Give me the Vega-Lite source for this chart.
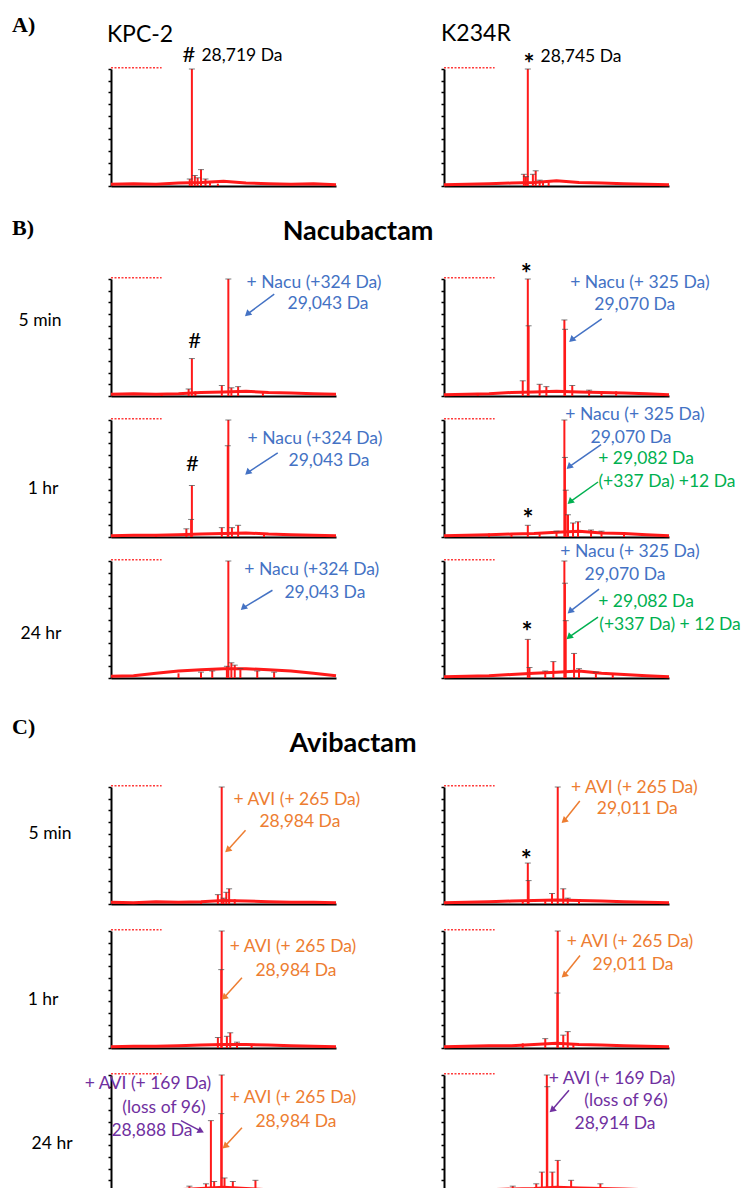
{
"$schema": "https://vega.github.io/schema/vega-lite/v6.json",
"background": "white",
"padding": {"left": 12, "top": 13, "right": 0, "bottom": 0},
"config": {
  "view": {"stroke": null},
  "font": "Lato",
  "axisX": {"labels": false, "ticks": false, "grid": false, "domainColor": "#000", "domainWidth": 2},
  "axisY": {"labels": false, "ticks": true, "tickSize": 3, "tickWidth": 1.5, "tickColor": "#000", "grid": false, "domainColor": "#000", "domainWidth": 2, "tickCount": 10}
},
"datasets": {
"d": [
{"s":"A","r":1,"c":1,"t":"hd","m":28000,"m2":28450,"i":101},
{"s":"A","r":1,"c":2,"t":"hd","m":28000,"m2":28450,"i":101},
{"s":"B","r":1,"c":1,"t":"hd","m":28000,"m2":28450,"i":101},
{"s":"B","r":1,"c":2,"t":"hd","m":28000,"m2":28450,"i":101},
{"s":"B","r":2,"c":1,"t":"hd","m":28000,"m2":28450,"i":101},
{"s":"B","r":2,"c":2,"t":"hd","m":28000,"m2":28450,"i":101},
{"s":"B","r":3,"c":1,"t":"hd","m":28000,"m2":28450,"i":101},
{"s":"B","r":3,"c":2,"t":"hd","m":28000,"m2":28450,"i":101},
{"s":"C","r":1,"c":1,"t":"hd","m":28000,"m2":28450,"i":101},
{"s":"C","r":1,"c":2,"t":"hd","m":28000,"m2":28450,"i":101},
{"s":"C","r":2,"c":1,"t":"hd","m":28000,"m2":28450,"i":101},
{"s":"C","r":2,"c":2,"t":"hd","m":28000,"m2":28450,"i":101},
{"s":"C","r":3,"c":1,"t":"hd","m":28000,"m2":28450,"i":101},
{"s":"C","r":3,"c":2,"t":"hd","m":28000,"m2":28450,"i":101},

{"s":"A","r":1,"c":1,"t":"bl","m":28000,"i":1.5},{"s":"A","r":1,"c":1,"t":"bl","m":28200,"i":2},{"s":"A","r":1,"c":1,"t":"bl","m":28400,"i":1.5},{"s":"A","r":1,"c":1,"t":"bl","m":28600,"i":2.5},{"s":"A","r":1,"c":1,"t":"bl","m":28800,"i":3},{"s":"A","r":1,"c":1,"t":"bl","m":29000,"i":4},{"s":"A","r":1,"c":1,"t":"bl","m":29200,"i":2.5},{"s":"A","r":1,"c":1,"t":"bl","m":29400,"i":2},{"s":"A","r":1,"c":1,"t":"bl","m":29600,"i":1.5},{"s":"A","r":1,"c":1,"t":"bl","m":29800,"i":2},{"s":"A","r":1,"c":1,"t":"bl","m":30000,"i":1},
{"s":"A","r":1,"c":2,"t":"bl","m":28000,"i":1},{"s":"A","r":1,"c":2,"t":"bl","m":28200,"i":1.5},{"s":"A","r":1,"c":2,"t":"bl","m":28400,"i":2},{"s":"A","r":1,"c":2,"t":"bl","m":28600,"i":2.5},{"s":"A","r":1,"c":2,"t":"bl","m":28800,"i":3},{"s":"A","r":1,"c":2,"t":"bl","m":29000,"i":4.5},{"s":"A","r":1,"c":2,"t":"bl","m":29200,"i":3},{"s":"A","r":1,"c":2,"t":"bl","m":29400,"i":2.5},{"s":"A","r":1,"c":2,"t":"bl","m":29600,"i":2},{"s":"A","r":1,"c":2,"t":"bl","m":29800,"i":1.5},{"s":"A","r":1,"c":2,"t":"bl","m":30000,"i":1},
{"s":"B","r":1,"c":1,"t":"bl","m":28000,"i":1.5},{"s":"B","r":1,"c":1,"t":"bl","m":28200,"i":2},{"s":"B","r":1,"c":1,"t":"bl","m":28400,"i":1.5},{"s":"B","r":1,"c":1,"t":"bl","m":28600,"i":2},{"s":"B","r":1,"c":1,"t":"bl","m":28800,"i":3},{"s":"B","r":1,"c":1,"t":"bl","m":29000,"i":3.5},{"s":"B","r":1,"c":1,"t":"bl","m":29200,"i":4},{"s":"B","r":1,"c":1,"t":"bl","m":29400,"i":3},{"s":"B","r":1,"c":1,"t":"bl","m":29600,"i":2.5},{"s":"B","r":1,"c":1,"t":"bl","m":29800,"i":2},{"s":"B","r":1,"c":1,"t":"bl","m":30000,"i":1.5},
{"s":"B","r":1,"c":2,"t":"bl","m":28000,"i":1},{"s":"B","r":1,"c":2,"t":"bl","m":28200,"i":1.5},{"s":"B","r":1,"c":2,"t":"bl","m":28400,"i":2},{"s":"B","r":1,"c":2,"t":"bl","m":28600,"i":3},{"s":"B","r":1,"c":2,"t":"bl","m":28800,"i":3.5},{"s":"B","r":1,"c":2,"t":"bl","m":29000,"i":4},{"s":"B","r":1,"c":2,"t":"bl","m":29200,"i":3.5},{"s":"B","r":1,"c":2,"t":"bl","m":29400,"i":3},{"s":"B","r":1,"c":2,"t":"bl","m":29600,"i":2.5},{"s":"B","r":1,"c":2,"t":"bl","m":29800,"i":2},{"s":"B","r":1,"c":2,"t":"bl","m":30000,"i":1},
{"s":"B","r":2,"c":1,"t":"bl","m":28000,"i":1},{"s":"B","r":2,"c":1,"t":"bl","m":28200,"i":1.5},{"s":"B","r":2,"c":1,"t":"bl","m":28400,"i":1.5},{"s":"B","r":2,"c":1,"t":"bl","m":28600,"i":2},{"s":"B","r":2,"c":1,"t":"bl","m":28800,"i":2.5},{"s":"B","r":2,"c":1,"t":"bl","m":29000,"i":3},{"s":"B","r":2,"c":1,"t":"bl","m":29200,"i":3.5},{"s":"B","r":2,"c":1,"t":"bl","m":29400,"i":2.5},{"s":"B","r":2,"c":1,"t":"bl","m":29600,"i":2},{"s":"B","r":2,"c":1,"t":"bl","m":29800,"i":1.5},{"s":"B","r":2,"c":1,"t":"bl","m":30000,"i":1},
{"s":"B","r":2,"c":2,"t":"bl","m":28000,"i":1},{"s":"B","r":2,"c":2,"t":"bl","m":28200,"i":1.5},{"s":"B","r":2,"c":2,"t":"bl","m":28400,"i":2},{"s":"B","r":2,"c":2,"t":"bl","m":28600,"i":2.5},{"s":"B","r":2,"c":2,"t":"bl","m":28800,"i":3},{"s":"B","r":2,"c":2,"t":"bl","m":29000,"i":4},{"s":"B","r":2,"c":2,"t":"bl","m":29200,"i":5},{"s":"B","r":2,"c":2,"t":"bl","m":29400,"i":3.5},{"s":"B","r":2,"c":2,"t":"bl","m":29600,"i":3},{"s":"B","r":2,"c":2,"t":"bl","m":29800,"i":2},{"s":"B","r":2,"c":2,"t":"bl","m":30000,"i":1},
{"s":"B","r":3,"c":1,"t":"bl","m":28000,"i":1.5},{"s":"B","r":3,"c":1,"t":"bl","m":28200,"i":2},{"s":"B","r":3,"c":1,"t":"bl","m":28400,"i":4},{"s":"B","r":3,"c":1,"t":"bl","m":28600,"i":6},{"s":"B","r":3,"c":1,"t":"bl","m":28800,"i":7},{"s":"B","r":3,"c":1,"t":"bl","m":29000,"i":8},{"s":"B","r":3,"c":1,"t":"bl","m":29200,"i":8},{"s":"B","r":3,"c":1,"t":"bl","m":29400,"i":7},{"s":"B","r":3,"c":1,"t":"bl","m":29600,"i":6},{"s":"B","r":3,"c":1,"t":"bl","m":29800,"i":4},{"s":"B","r":3,"c":1,"t":"bl","m":30000,"i":2},
{"s":"B","r":3,"c":2,"t":"bl","m":28000,"i":1},{"s":"B","r":3,"c":2,"t":"bl","m":28200,"i":1.5},{"s":"B","r":3,"c":2,"t":"bl","m":28400,"i":2},{"s":"B","r":3,"c":2,"t":"bl","m":28600,"i":3},{"s":"B","r":3,"c":2,"t":"bl","m":28800,"i":4},{"s":"B","r":3,"c":2,"t":"bl","m":29000,"i":5},{"s":"B","r":3,"c":2,"t":"bl","m":29200,"i":6},{"s":"B","r":3,"c":2,"t":"bl","m":29400,"i":4},{"s":"B","r":3,"c":2,"t":"bl","m":29600,"i":3},{"s":"B","r":3,"c":2,"t":"bl","m":29800,"i":2},{"s":"B","r":3,"c":2,"t":"bl","m":30000,"i":1},
{"s":"C","r":1,"c":1,"t":"bl","m":28000,"i":1.5},{"s":"C","r":1,"c":1,"t":"bl","m":28200,"i":1},{"s":"C","r":1,"c":1,"t":"bl","m":28400,"i":2},{"s":"C","r":1,"c":1,"t":"bl","m":28600,"i":1.5},{"s":"C","r":1,"c":1,"t":"bl","m":28800,"i":2},{"s":"C","r":1,"c":1,"t":"bl","m":29000,"i":3},{"s":"C","r":1,"c":1,"t":"bl","m":29200,"i":2.5},{"s":"C","r":1,"c":1,"t":"bl","m":29400,"i":2},{"s":"C","r":1,"c":1,"t":"bl","m":29600,"i":1.5},{"s":"C","r":1,"c":1,"t":"bl","m":29800,"i":1.5},{"s":"C","r":1,"c":1,"t":"bl","m":30000,"i":1},
{"s":"C","r":1,"c":2,"t":"bl","m":28000,"i":1},{"s":"C","r":1,"c":2,"t":"bl","m":28200,"i":1.5},{"s":"C","r":1,"c":2,"t":"bl","m":28400,"i":2},{"s":"C","r":1,"c":2,"t":"bl","m":28600,"i":2.5},{"s":"C","r":1,"c":2,"t":"bl","m":28800,"i":3},{"s":"C","r":1,"c":2,"t":"bl","m":29000,"i":3.5},{"s":"C","r":1,"c":2,"t":"bl","m":29200,"i":3},{"s":"C","r":1,"c":2,"t":"bl","m":29400,"i":2.5},{"s":"C","r":1,"c":2,"t":"bl","m":29600,"i":2},{"s":"C","r":1,"c":2,"t":"bl","m":29800,"i":1.5},{"s":"C","r":1,"c":2,"t":"bl","m":30000,"i":1},
{"s":"C","r":2,"c":1,"t":"bl","m":28000,"i":1},{"s":"C","r":2,"c":1,"t":"bl","m":28200,"i":1.5},{"s":"C","r":2,"c":1,"t":"bl","m":28400,"i":1.5},{"s":"C","r":2,"c":1,"t":"bl","m":28600,"i":2},{"s":"C","r":2,"c":1,"t":"bl","m":28800,"i":2.5},{"s":"C","r":2,"c":1,"t":"bl","m":29000,"i":3},{"s":"C","r":2,"c":1,"t":"bl","m":29200,"i":3},{"s":"C","r":2,"c":1,"t":"bl","m":29400,"i":2.5},{"s":"C","r":2,"c":1,"t":"bl","m":29600,"i":2},{"s":"C","r":2,"c":1,"t":"bl","m":29800,"i":1.5},{"s":"C","r":2,"c":1,"t":"bl","m":30000,"i":1},
{"s":"C","r":2,"c":2,"t":"bl","m":28000,"i":1},{"s":"C","r":2,"c":2,"t":"bl","m":28200,"i":1.5},{"s":"C","r":2,"c":2,"t":"bl","m":28400,"i":2},{"s":"C","r":2,"c":2,"t":"bl","m":28600,"i":2},{"s":"C","r":2,"c":2,"t":"bl","m":28800,"i":3},{"s":"C","r":2,"c":2,"t":"bl","m":29000,"i":4},{"s":"C","r":2,"c":2,"t":"bl","m":29200,"i":3},{"s":"C","r":2,"c":2,"t":"bl","m":29400,"i":2.5},{"s":"C","r":2,"c":2,"t":"bl","m":29600,"i":2},{"s":"C","r":2,"c":2,"t":"bl","m":29800,"i":1.5},{"s":"C","r":2,"c":2,"t":"bl","m":30000,"i":1},
{"s":"C","r":3,"c":1,"t":"bl","m":28000,"i":1},{"s":"C","r":3,"c":1,"t":"bl","m":28200,"i":1},{"s":"C","r":3,"c":1,"t":"bl","m":28400,"i":1.5},{"s":"C","r":3,"c":1,"t":"bl","m":28600,"i":2},{"s":"C","r":3,"c":1,"t":"bl","m":28800,"i":3},{"s":"C","r":3,"c":1,"t":"bl","m":29000,"i":4},{"s":"C","r":3,"c":1,"t":"bl","m":29200,"i":3},{"s":"C","r":3,"c":1,"t":"bl","m":29400,"i":2},{"s":"C","r":3,"c":1,"t":"bl","m":29600,"i":1.5},{"s":"C","r":3,"c":1,"t":"bl","m":29800,"i":1},{"s":"C","r":3,"c":1,"t":"bl","m":30000,"i":1},
{"s":"C","r":3,"c":2,"t":"bl","m":28000,"i":1},{"s":"C","r":3,"c":2,"t":"bl","m":28200,"i":1.5},{"s":"C","r":3,"c":2,"t":"bl","m":28400,"i":2},{"s":"C","r":3,"c":2,"t":"bl","m":28600,"i":2.5},{"s":"C","r":3,"c":2,"t":"bl","m":28800,"i":3},{"s":"C","r":3,"c":2,"t":"bl","m":29000,"i":4},{"s":"C","r":3,"c":2,"t":"bl","m":29200,"i":3.5},{"s":"C","r":3,"c":2,"t":"bl","m":29400,"i":3},{"s":"C","r":3,"c":2,"t":"bl","m":29600,"i":2.5},{"s":"C","r":3,"c":2,"t":"bl","m":29800,"i":2},{"s":"C","r":3,"c":2,"t":"bl","m":30000,"i":1.5},

{"s":"A","r":1,"c":1,"t":"pk","m":28719,"i":100},{"s":"A","r":1,"c":1,"t":"pk","m":28700,"i":6},{"s":"A","r":1,"c":1,"t":"pk","m":28745,"i":9},{"s":"A","r":1,"c":1,"t":"pk","m":28770,"i":7},{"s":"A","r":1,"c":1,"t":"pk","m":28800,"i":14},{"s":"A","r":1,"c":1,"t":"pk","m":28840,"i":6},{"s":"A","r":1,"c":1,"t":"pk","m":28880,"i":4},{"s":"A","r":1,"c":1,"t":"pk","m":28950,"i":2},
{"s":"A","r":1,"c":2,"t":"pk","m":28745,"i":100},{"s":"A","r":1,"c":2,"t":"pk","m":28710,"i":10},{"s":"A","r":1,"c":2,"t":"pk","m":28728,"i":8},{"s":"A","r":1,"c":2,"t":"pk","m":28790,"i":10},{"s":"A","r":1,"c":2,"t":"pk","m":28815,"i":13},{"s":"A","r":1,"c":2,"t":"pk","m":28850,"i":5},{"s":"A","r":1,"c":2,"t":"pk","m":28880,"i":4},{"s":"A","r":1,"c":2,"t":"pk","m":28930,"i":3},
{"s":"B","r":1,"c":1,"t":"pk","m":28719,"i":32},{"s":"B","r":1,"c":1,"t":"pk","m":29043,"i":100},{"s":"B","r":1,"c":1,"t":"pk","m":28690,"i":6},{"s":"B","r":1,"c":1,"t":"pk","m":28750,"i":4},{"s":"B","r":1,"c":1,"t":"pk","m":28985,"i":9},{"s":"B","r":1,"c":1,"t":"pk","m":29070,"i":7},{"s":"B","r":1,"c":1,"t":"pk","m":29130,"i":8},{"s":"B","r":1,"c":1,"t":"pk","m":29350,"i":4},{"s":"B","r":1,"c":1,"t":"pk","m":28450,"i":2},
{"s":"B","r":1,"c":2,"t":"pk","m":28745,"i":100},{"s":"B","r":1,"c":2,"t":"pk","m":28752,"i":60},{"s":"B","r":1,"c":2,"t":"pk","m":29070,"i":65},{"s":"B","r":1,"c":2,"t":"pk","m":29076,"i":57},{"s":"B","r":1,"c":2,"t":"pk","m":28700,"i":13},{"s":"B","r":1,"c":2,"t":"pk","m":28850,"i":10},{"s":"B","r":1,"c":2,"t":"pk","m":28910,"i":8},{"s":"B","r":1,"c":2,"t":"pk","m":29140,"i":9},{"s":"B","r":1,"c":2,"t":"pk","m":29290,"i":5},{"s":"B","r":1,"c":2,"t":"pk","m":29400,"i":4},{"s":"B","r":1,"c":2,"t":"pk","m":29530,"i":4},{"s":"B","r":1,"c":2,"t":"pk","m":28300,"i":2},
{"s":"B","r":2,"c":1,"t":"pk","m":28719,"i":44},{"s":"B","r":2,"c":1,"t":"pk","m":28712,"i":15},{"s":"B","r":2,"c":1,"t":"pk","m":29043,"i":100},{"s":"B","r":2,"c":1,"t":"pk","m":29038,"i":78},{"s":"B","r":2,"c":1,"t":"pk","m":28670,"i":7},{"s":"B","r":2,"c":1,"t":"pk","m":28985,"i":8},{"s":"B","r":2,"c":1,"t":"pk","m":29075,"i":8},{"s":"B","r":2,"c":1,"t":"pk","m":29130,"i":10},{"s":"B","r":2,"c":1,"t":"pk","m":29360,"i":3},{"s":"B","r":2,"c":1,"t":"pk","m":28400,"i":2},
{"s":"B","r":2,"c":2,"t":"pk","m":28745,"i":10},{"s":"B","r":2,"c":2,"t":"pk","m":29070,"i":100},{"s":"B","r":2,"c":2,"t":"pk","m":29075,"i":68},{"s":"B","r":2,"c":2,"t":"pk","m":29082,"i":40},{"s":"B","r":2,"c":2,"t":"pk","m":29102,"i":19},{"s":"B","r":2,"c":2,"t":"pk","m":29147,"i":12},{"s":"B","r":2,"c":2,"t":"pk","m":29191,"i":13},{"s":"B","r":2,"c":2,"t":"pk","m":29307,"i":6},{"s":"B","r":2,"c":2,"t":"pk","m":29400,"i":5},{"s":"B","r":2,"c":2,"t":"pk","m":29000,"i":5},{"s":"B","r":2,"c":2,"t":"pk","m":28850,"i":4},{"s":"B","r":2,"c":2,"t":"pk","m":28400,"i":3},{"s":"B","r":2,"c":2,"t":"pk","m":28600,"i":2},{"s":"B","r":2,"c":2,"t":"pk","m":29600,"i":3},
{"s":"B","r":3,"c":1,"t":"pk","m":29043,"i":100},{"s":"B","r":3,"c":1,"t":"pk","m":29030,"i":10},{"s":"B","r":3,"c":1,"t":"pk","m":29070,"i":13},{"s":"B","r":3,"c":1,"t":"pk","m":29100,"i":11},{"s":"B","r":3,"c":1,"t":"pk","m":29150,"i":8},{"s":"B","r":3,"c":1,"t":"pk","m":28900,"i":6},{"s":"B","r":3,"c":1,"t":"pk","m":28800,"i":5},{"s":"B","r":3,"c":1,"t":"pk","m":29300,"i":6},{"s":"B","r":3,"c":1,"t":"pk","m":29450,"i":5},{"s":"B","r":3,"c":1,"t":"pk","m":28600,"i":4},
{"s":"B","r":3,"c":2,"t":"pk","m":28745,"i":33},{"s":"B","r":3,"c":2,"t":"pk","m":28760,"i":9},{"s":"B","r":3,"c":2,"t":"pk","m":29070,"i":100},{"s":"B","r":3,"c":2,"t":"pk","m":29075,"i":81},{"s":"B","r":3,"c":2,"t":"pk","m":29082,"i":49},{"s":"B","r":3,"c":2,"t":"pk","m":28972,"i":14},{"s":"B","r":3,"c":2,"t":"pk","m":29156,"i":21},{"s":"B","r":3,"c":2,"t":"pk","m":29200,"i":8},{"s":"B","r":3,"c":2,"t":"pk","m":29350,"i":5},{"s":"B","r":3,"c":2,"t":"pk","m":28900,"i":6},{"s":"B","r":3,"c":2,"t":"pk","m":29500,"i":4},
{"s":"C","r":1,"c":1,"t":"pk","m":28984,"i":100},{"s":"C","r":1,"c":1,"t":"pk","m":28950,"i":8},{"s":"C","r":1,"c":1,"t":"pk","m":29000,"i":5},{"s":"C","r":1,"c":1,"t":"pk","m":29025,"i":10},{"s":"C","r":1,"c":1,"t":"pk","m":29050,"i":13},{"s":"C","r":1,"c":1,"t":"pk","m":29100,"i":4},{"s":"C","r":1,"c":1,"t":"pk","m":28800,"i":2},
{"s":"C","r":1,"c":2,"t":"pk","m":28745,"i":35},{"s":"C","r":1,"c":2,"t":"pk","m":28752,"i":20},{"s":"C","r":1,"c":2,"t":"pk","m":29011,"i":100},{"s":"C","r":1,"c":2,"t":"pk","m":28700,"i":3},{"s":"C","r":1,"c":2,"t":"pk","m":28900,"i":4},{"s":"C","r":1,"c":2,"t":"pk","m":28960,"i":9},{"s":"C","r":1,"c":2,"t":"pk","m":29060,"i":13},{"s":"C","r":1,"c":2,"t":"pk","m":29100,"i":5},{"s":"C","r":1,"c":2,"t":"pk","m":29200,"i":4},
{"s":"C","r":2,"c":1,"t":"pk","m":28984,"i":100},{"s":"C","r":2,"c":1,"t":"pk","m":28980,"i":67},{"s":"C","r":2,"c":1,"t":"pk","m":28950,"i":9},{"s":"C","r":2,"c":1,"t":"pk","m":29030,"i":10},{"s":"C","r":2,"c":1,"t":"pk","m":29060,"i":13},{"s":"C","r":2,"c":1,"t":"pk","m":29120,"i":5},{"s":"C","r":2,"c":1,"t":"pk","m":29250,"i":3},
{"s":"C","r":2,"c":2,"t":"pk","m":29011,"i":100},{"s":"C","r":2,"c":2,"t":"pk","m":29008,"i":47},{"s":"C","r":2,"c":2,"t":"pk","m":28700,"i":4},{"s":"C","r":2,"c":2,"t":"pk","m":28900,"i":8},{"s":"C","r":2,"c":2,"t":"pk","m":29060,"i":11},{"s":"C","r":2,"c":2,"t":"pk","m":29100,"i":14},{"s":"C","r":2,"c":2,"t":"pk","m":29150,"i":4},
{"s":"C","r":3,"c":1,"t":"pk","m":28888,"i":61},{"s":"C","r":3,"c":1,"t":"pk","m":28984,"i":100},{"s":"C","r":3,"c":1,"t":"pk","m":28980,"i":67},{"s":"C","r":3,"c":1,"t":"pk","m":28844,"i":7},{"s":"C","r":3,"c":1,"t":"pk","m":28917,"i":9},{"s":"C","r":3,"c":1,"t":"pk","m":29009,"i":12},{"s":"C","r":3,"c":1,"t":"pk","m":29083,"i":9},{"s":"C","r":3,"c":1,"t":"pk","m":29284,"i":10},{"s":"C","r":3,"c":1,"t":"pk","m":28697,"i":5},
{"s":"C","r":3,"c":2,"t":"pk","m":28914,"i":100},{"s":"C","r":3,"c":2,"t":"pk","m":28918,"i":90},{"s":"C","r":3,"c":2,"t":"pk","m":29011,"i":27},{"s":"C","r":3,"c":2,"t":"pk","m":28870,"i":17},{"s":"C","r":3,"c":2,"t":"pk","m":28963,"i":17},{"s":"C","r":3,"c":2,"t":"pk","m":29130,"i":10},{"s":"C","r":3,"c":2,"t":"pk","m":29390,"i":7},{"s":"C","r":3,"c":2,"t":"pk","m":28611,"i":5},{"s":"C","r":3,"c":2,"t":"pk","m":28820,"i":7},

{"s":"A","r":1,"c":1,"t":"sec","m":27120,"i":138,"txt":"A)"},
{"s":"A","r":1,"c":1,"t":"title","m":28258,"i":129,"txt":"KPC-2"},
{"s":"A","r":1,"c":1,"t":"sym","m":28693,"i":112,"txt":"#"},
{"s":"A","r":1,"c":1,"t":"tx","m":29164,"i":111,"txt":"28,719 Da","k":"black"},
{"s":"A","r":1,"c":2,"t":"title","m":28284,"i":130,"txt":"K234R"},
{"s":"A","r":1,"c":2,"t":"star","m":28756,"i":110,"txt":"*"},
{"s":"A","r":1,"c":2,"t":"tx","m":29218,"i":110,"txt":"28,745 Da","k":"black"},

{"s":"B","r":1,"c":1,"t":"sec","m":27120,"i":144,"txt":"B)"},
{"s":"B","r":1,"c":1,"t":"head","m":30196,"i":140,"txt":"Nacubactam"},
{"s":"B","r":1,"c":1,"t":"row","m":27369,"i":64,"txt":"5 min"},
{"s":"B","r":1,"c":1,"t":"sym","m":28743,"i":47,"txt":"#"},
{"s":"B","r":1,"c":1,"t":"tx","m":29805,"i":97,"txt":"+ Nacu (+324 Da)","k":"blue"},
{"s":"B","r":1,"c":1,"t":"tx","m":29929,"i":79,"txt":"29,043 Da","k":"blue"},
{"s":"B","r":1,"c":1,"t":"ar","m":29451,"i":87,"m2":29212,"i2":70,"k":"blue","d":"dl"},
{"s":"B","r":1,"c":2,"t":"star","m":28732,"i":110,"txt":"*"},
{"s":"B","r":1,"c":2,"t":"tx","m":29741,"i":97,"txt":"+ Nacu (+ 325 Da)","k":"blue"},
{"s":"B","r":1,"c":2,"t":"tx","m":29696,"i":78,"txt":"29,070 Da","k":"blue"},
{"s":"B","r":1,"c":2,"t":"ar","m":29402,"i":66,"m2":29134,"i2":48,"k":"blue","d":"dl"},
{"s":"B","r":2,"c":1,"t":"row","m":27396,"i":41,"txt":"1 hr"},
{"s":"B","r":2,"c":1,"t":"sym","m":28723,"i":62,"txt":"#"},
{"s":"B","r":2,"c":1,"t":"tx","m":29813,"i":84,"txt":"+ Nacu (+324 Da)","k":"blue"},
{"s":"B","r":2,"c":1,"t":"tx","m":29938,"i":65,"txt":"29,043 Da","k":"blue"},
{"s":"B","r":2,"c":1,"t":"ar","m":29482,"i":72,"m2":29214,"i2":55,"k":"blue","d":"dl"},
{"s":"B","r":2,"c":2,"t":"tx","m":29698,"i":104,"txt":"+ Nacu (+ 325 Da)","k":"blue"},
{"s":"B","r":2,"c":2,"t":"tx","m":29662,"i":85,"txt":"29,070 Da","k":"blue"},
{"s":"B","r":2,"c":2,"t":"tx","m":29796,"i":67,"txt":"+ 29,082 Da","k":"green"},
{"s":"B","r":2,"c":2,"t":"tx","m":29982,"i":47,"txt":"(+337 Da) +12 Da","k":"green"},
{"s":"B","r":2,"c":2,"t":"ar","m":29396,"i":79,"m2":29111,"i2":60,"k":"blue","d":"dl"},
{"s":"B","r":2,"c":2,"t":"ar","m":29369,"i":47,"m2":29120,"i2":30,"k":"green","d":"dl"},
{"s":"B","r":2,"c":2,"t":"star","m":28747,"i":21,"txt":"*"},
{"s":"B","r":3,"c":1,"t":"row","m":27378,"i":38,"txt":"24 hr"},
{"s":"B","r":3,"c":1,"t":"tx","m":29785,"i":92,"txt":"+ Nacu (+324 Da)","k":"blue"},
{"s":"B","r":3,"c":1,"t":"tx","m":29901,"i":73,"txt":"29,043 Da","k":"blue"},
{"s":"B","r":3,"c":1,"t":"ar","m":29435,"i":75,"m2":29175,"i2":60,"k":"blue","d":"dl"},
{"s":"B","r":3,"c":2,"t":"tx","m":29653,"i":108,"txt":"+ Nacu (+ 325 Da)","k":"blue"},
{"s":"B","r":3,"c":2,"t":"tx","m":29609,"i":88,"txt":"29,070 Da","k":"blue"},
{"s":"B","r":3,"c":2,"t":"tx","m":29796,"i":65,"txt":"+ 29,082 Da","k":"green"},
{"s":"B","r":3,"c":2,"t":"tx","m":30009,"i":45,"txt":"(+337 Da) + 12 Da","k":"green"},
{"s":"B","r":3,"c":2,"t":"ar","m":29378,"i":76,"m2":29120,"i2":57,"k":"blue","d":"dl"},
{"s":"B","r":3,"c":2,"t":"ar","m":29369,"i":52,"m2":29111,"i2":35,"k":"green","d":"dl"},
{"s":"B","r":3,"c":2,"t":"star","m":28738,"i":45,"txt":"*"},

{"s":"C","r":1,"c":1,"t":"sec","m":27120,"i":151,"txt":"C)"},
{"s":"C","r":1,"c":1,"t":"head","m":30151,"i":137,"txt":"Avibactam"},
{"s":"C","r":1,"c":1,"t":"row","m":27458,"i":60,"txt":"5 min"},
{"s":"C","r":1,"c":1,"t":"tx","m":29652,"i":89,"txt":"+ AVI (+ 265 Da)","k":"orange"},
{"s":"C","r":1,"c":1,"t":"tx","m":29679,"i":70,"txt":"28,984 Da","k":"orange"},
{"s":"C","r":1,"c":1,"t":"ar","m":29196,"i":63,"m2":29036,"i2":46,"k":"orange","d":"dl"},
{"s":"C","r":1,"c":2,"t":"tx","m":29692,"i":99,"txt":"+ AVI (+ 265 Da)","k":"orange"},
{"s":"C","r":1,"c":2,"t":"tx","m":29718,"i":81,"txt":"29,011 Da","k":"orange"},
{"s":"C","r":1,"c":2,"t":"ar","m":29207,"i":88,"m2":29066,"i2":71,"k":"orange","d":"dl"},
{"s":"C","r":1,"c":2,"t":"star","m":28731,"i":44,"txt":"*"},
{"s":"C","r":2,"c":1,"t":"row","m":27396,"i":41,"txt":"1 hr"},
{"s":"C","r":2,"c":1,"t":"tx","m":29618,"i":86,"txt":"+ AVI (+ 265 Da)","k":"orange"},
{"s":"C","r":2,"c":1,"t":"tx","m":29644,"i":66,"txt":"28,984 Da","k":"orange"},
{"s":"C","r":2,"c":1,"t":"ar","m":29164,"i":60,"m2":29004,"i2":43,"k":"orange","d":"dl"},
{"s":"C","r":2,"c":2,"t":"tx","m":29653,"i":91,"txt":"+ AVI (+ 265 Da)","k":"orange"},
{"s":"C","r":2,"c":2,"t":"tx","m":29680,"i":71,"txt":"29,011 Da","k":"orange"},
{"s":"C","r":2,"c":2,"t":"ar","m":29209,"i":79,"m2":29067,"i2":62,"k":"orange","d":"dl"},
{"s":"C","r":3,"c":1,"t":"row","m":27476,"i":41,"txt":"24 hr"},
{"s":"C","r":3,"c":1,"t":"tx","m":28329,"i":92,"txt":"+ AVI (+ 169 Da)","k":"purple"},
{"s":"C","r":3,"c":1,"t":"tx","m":28471,"i":72,"txt":"(loss of 96)","k":"purple"},
{"s":"C","r":3,"c":1,"t":"tx","m":28364,"i":52,"txt":"28,888 Da","k":"purple"},
{"s":"C","r":3,"c":1,"t":"ar","m":28622,"i":61,"m2":28800,"i2":52,"k":"purple","d":"dr"},
{"s":"C","r":3,"c":1,"t":"tx","m":29618,"i":80,"txt":"+ AVI (+ 265 Da)","k":"orange"},
{"s":"C","r":3,"c":1,"t":"tx","m":29644,"i":60,"txt":"28,984 Da","k":"orange"},
{"s":"C","r":3,"c":1,"t":"ar","m":29164,"i":55,"m2":29013,"i2":39,"k":"orange","d":"dl"},
{"s":"C","r":3,"c":2,"t":"tx","m":29493,"i":97,"txt":"+ AVI (+ 169 Da)","k":"purple"},
{"s":"C","r":3,"c":2,"t":"tx","m":29618,"i":78,"txt":"(loss of 96)","k":"purple"},
{"s":"C","r":3,"c":2,"t":"tx","m":29520,"i":58,"txt":"28,914 Da","k":"purple"},
{"s":"C","r":3,"c":2,"t":"ar","m":29111,"i":87,"m2":28960,"i2":70,"k":"purple","d":"dl"}
]
},
"data": {"name": "d"},
"spacing": 33,
"vconcat": [
 {
  "spacing": 25,
  "vconcat": [
   {
    "transform": [{"filter": "datum.s == 'A'"}],
    "facet": {"column": {"field": "c", "type": "ordinal", "header": null}},
    "spacing": {"column": 108},
    "bounds": "flush",
    "resolve": {"axis": {"x": "independent", "y": "independent"}},
    "spec": {
     "width": 225, "height": 117,
     "encoding": {
      "x": {"field": "m", "type": "quantitative", "scale": {"domain": [28000, 30000], "nice": false, "zero": false}, "axis": {"title": null}},
      "y": {"field": "i", "type": "quantitative", "scale": {"domain": [0, 100], "nice": false}, "axis": {"title": null}}
     },
     "layer": [
      {"transform": [{"filter": "datum.t == 'hd'"}], "mark": {"type": "rule", "color": "#ff3b3b", "strokeWidth": 1.5, "strokeDash": [2, 1.5]}, "encoding": {"x2": {"field": "m2"}}},
      {"transform": [{"filter": "datum.t == 'bl'"}], "mark": {"type": "line", "color": "#ff1a1a", "strokeWidth": 3}, "encoding": {}},
      {"transform": [{"filter": "datum.t == 'pk'"}], "mark": {"type": "rule", "color": "#ff1a1a", "strokeWidth": 2}, "encoding": {"y2": {"datum": 0}}},
      {"transform": [{"filter": "datum.t == 'pk' && datum.i >= 5"}], "mark": {"type": "tick", "orient": "horizontal", "size": 6, "thickness": 1, "color": "#444"}, "encoding": {}},
      {"transform": [{"filter": "datum.t == 'tx'"}], "mark": {"type": "text", "font": "Lato", "fontSize": 17.5, "align": "center", "baseline": "middle"}, "encoding": {"text": {"field": "txt"}, "color": {"field": "k", "type": "nominal", "scale": {"domain": ["black", "blue", "orange", "green", "purple"], "range": ["#000000", "#4472C4", "#ED7D31", "#00B050", "#7030A0"]}, "legend": null}}},
      {"transform": [{"filter": "datum.t == 'sym'"}], "mark": {"type": "text", "font": "Lato", "fontSize": 22, "color": "#000", "align": "center", "baseline": "middle"}, "encoding": {"text": {"field": "txt"}}},
      {"transform": [{"filter": "datum.t == 'star'"}], "mark": {"type": "text", "font": "Lato", "fontSize": 26, "fontWeight": "bold", "color": "#000", "align": "center", "baseline": "middle", "dy": 8}, "encoding": {"text": {"field": "txt"}}},
      {"transform": [{"filter": "datum.t == 'title'"}], "mark": {"type": "text", "font": "Lato", "fontSize": 23, "color": "#000", "align": "center", "baseline": "middle"}, "encoding": {"text": {"field": "txt"}}},
      {"transform": [{"filter": "datum.t == 'sec'"}], "mark": {"type": "text", "font": "Liberation Serif", "fontWeight": "bold", "fontSize": 22, "color": "#000", "align": "left", "baseline": "middle"}, "encoding": {"text": {"field": "txt"}}}
     ]
    }
   },
   {
    "transform": [{"filter": "datum.s == 'B'"}],
    "facet": {"row": {"field": "r", "type": "ordinal", "header": null}, "column": {"field": "c", "type": "ordinal", "header": null}},
    "spacing": {"row": 24, "column": 108},
    "bounds": "flush",
    "resolve": {"axis": {"x": "independent", "y": "independent"}},
    "spec": {
     "width": 225, "height": 117,
     "encoding": {
      "x": {"field": "m", "type": "quantitative", "scale": {"domain": [28000, 30000], "nice": false, "zero": false}, "axis": {"title": null}},
      "y": {"field": "i", "type": "quantitative", "scale": {"domain": [0, 100], "nice": false}, "axis": {"title": null}}
     },
     "layer": [
      {"transform": [{"filter": "datum.t == 'hd'"}], "mark": {"type": "rule", "color": "#ff3b3b", "strokeWidth": 1.5, "strokeDash": [2, 1.5]}, "encoding": {"x2": {"field": "m2"}}},
      {"transform": [{"filter": "datum.t == 'bl'"}], "mark": {"type": "line", "color": "#ff1a1a", "strokeWidth": 3}, "encoding": {}},
      {"transform": [{"filter": "datum.t == 'pk'"}], "mark": {"type": "rule", "color": "#ff1a1a", "strokeWidth": 2}, "encoding": {"y2": {"datum": 0}}},
      {"transform": [{"filter": "datum.t == 'pk' && datum.i >= 5"}], "mark": {"type": "tick", "orient": "horizontal", "size": 6, "thickness": 1, "color": "#444"}, "encoding": {}},
      {"transform": [{"filter": "datum.t == 'ar'"}], "mark": {"type": "rule", "strokeWidth": 1.5}, "encoding": {"x2": {"field": "m2"}, "y2": {"field": "i2"}, "color": {"field": "k", "type": "nominal", "scale": {"domain": ["black", "blue", "orange", "green", "purple"], "range": ["#000000", "#4472C4", "#ED7D31", "#00B050", "#7030A0"]}, "legend": null}}},
      {"transform": [{"filter": "datum.t == 'ar' && datum.d == 'dl'"}], "mark": {"type": "point", "shape": "triangle-down", "angle": 48, "filled": true, "opacity": 1, "size": 55}, "encoding": {"x": {"field": "m2", "type": "quantitative", "scale": {"domain": [28000, 30000], "nice": false, "zero": false}}, "y": {"field": "i2", "type": "quantitative", "scale": {"domain": [0, 100], "nice": false}}, "color": {"field": "k", "type": "nominal", "scale": {"domain": ["black", "blue", "orange", "green", "purple"], "range": ["#000000", "#4472C4", "#ED7D31", "#00B050", "#7030A0"]}, "legend": null}}},
      {"transform": [{"filter": "datum.t == 'tx'"}], "mark": {"type": "text", "font": "Lato", "fontSize": 17.5, "align": "center", "baseline": "middle"}, "encoding": {"text": {"field": "txt"}, "color": {"field": "k", "type": "nominal", "scale": {"domain": ["black", "blue", "orange", "green", "purple"], "range": ["#000000", "#4472C4", "#ED7D31", "#00B050", "#7030A0"]}, "legend": null}}},
      {"transform": [{"filter": "datum.t == 'sym'"}], "mark": {"type": "text", "font": "Lato", "fontSize": 22, "color": "#000", "align": "center", "baseline": "middle"}, "encoding": {"text": {"field": "txt"}}},
      {"transform": [{"filter": "datum.t == 'star'"}], "mark": {"type": "text", "font": "Lato", "fontSize": 26, "fontWeight": "bold", "color": "#000", "align": "center", "baseline": "middle", "dy": 8}, "encoding": {"text": {"field": "txt"}}},
      {"transform": [{"filter": "datum.t == 'row'"}], "mark": {"type": "text", "font": "Lato", "fontSize": 17.5, "color": "#000", "align": "center", "baseline": "middle"}, "encoding": {"text": {"field": "txt"}}},
      {"transform": [{"filter": "datum.t == 'sec'"}], "mark": {"type": "text", "font": "Liberation Serif", "fontWeight": "bold", "fontSize": 22, "color": "#000", "align": "left", "baseline": "middle"}, "encoding": {"text": {"field": "txt"}}},
      {"transform": [{"filter": "datum.t == 'head'"}], "mark": {"type": "text", "font": "Lato", "fontWeight": "bold", "fontSize": 27, "color": "#000", "align": "center", "baseline": "middle"}, "encoding": {"text": {"field": "txt"}}}
     ]
    }
   }
  ]
 },
 {
  "transform": [{"filter": "datum.s == 'C'"}],
  "facet": {"row": {"field": "r", "type": "ordinal", "header": null}, "column": {"field": "c", "type": "ordinal", "header": null}},
  "spacing": {"row": 27, "column": 108},
  "bounds": "flush",
  "resolve": {"axis": {"x": "independent", "y": "independent"}},
  "spec": {
   "width": 225, "height": 117,
   "encoding": {
    "x": {"field": "m", "type": "quantitative", "scale": {"domain": [28000, 30000], "nice": false, "zero": false}, "axis": {"title": null}},
    "y": {"field": "i", "type": "quantitative", "scale": {"domain": [0, 100], "nice": false}, "axis": {"title": null}}
   },
   "layer": [
    {"transform": [{"filter": "datum.t == 'hd'"}], "mark": {"type": "rule", "color": "#ff3b3b", "strokeWidth": 1.5, "strokeDash": [2, 1.5]}, "encoding": {"x2": {"field": "m2"}}},
    {"transform": [{"filter": "datum.t == 'bl'"}], "mark": {"type": "line", "color": "#ff1a1a", "strokeWidth": 3}, "encoding": {}},
    {"transform": [{"filter": "datum.t == 'pk'"}], "mark": {"type": "rule", "color": "#ff1a1a", "strokeWidth": 2}, "encoding": {"y2": {"datum": 0}}},
    {"transform": [{"filter": "datum.t == 'pk' && datum.i >= 5"}], "mark": {"type": "tick", "orient": "horizontal", "size": 6, "thickness": 1, "color": "#444"}, "encoding": {}},
    {"transform": [{"filter": "datum.t == 'ar'"}], "mark": {"type": "rule", "strokeWidth": 1.5}, "encoding": {"x2": {"field": "m2"}, "y2": {"field": "i2"}, "color": {"field": "k", "type": "nominal", "scale": {"domain": ["black", "blue", "orange", "green", "purple"], "range": ["#000000", "#4472C4", "#ED7D31", "#00B050", "#7030A0"]}, "legend": null}}},
    {"transform": [{"filter": "datum.t == 'ar' && datum.d == 'dl'"}], "mark": {"type": "point", "shape": "triangle-down", "angle": 48, "filled": true, "opacity": 1, "size": 55}, "encoding": {"x": {"field": "m2", "type": "quantitative", "scale": {"domain": [28000, 30000], "nice": false, "zero": false}}, "y": {"field": "i2", "type": "quantitative", "scale": {"domain": [0, 100], "nice": false}}, "color": {"field": "k", "type": "nominal", "scale": {"domain": ["black", "blue", "orange", "green", "purple"], "range": ["#000000", "#4472C4", "#ED7D31", "#00B050", "#7030A0"]}, "legend": null}}},
    {"transform": [{"filter": "datum.t == 'ar' && datum.d == 'dr'"}], "mark": {"type": "point", "shape": "triangle-down", "angle": 297, "filled": true, "opacity": 1, "size": 55}, "encoding": {"x": {"field": "m2", "type": "quantitative", "scale": {"domain": [28000, 30000], "nice": false, "zero": false}}, "y": {"field": "i2", "type": "quantitative", "scale": {"domain": [0, 100], "nice": false}}, "color": {"field": "k", "type": "nominal", "scale": {"domain": ["black", "blue", "orange", "green", "purple"], "range": ["#000000", "#4472C4", "#ED7D31", "#00B050", "#7030A0"]}, "legend": null}}},
    {"transform": [{"filter": "datum.t == 'tx'"}], "mark": {"type": "text", "font": "Lato", "fontSize": 17.5, "align": "center", "baseline": "middle"}, "encoding": {"text": {"field": "txt"}, "color": {"field": "k", "type": "nominal", "scale": {"domain": ["black", "blue", "orange", "green", "purple"], "range": ["#000000", "#4472C4", "#ED7D31", "#00B050", "#7030A0"]}, "legend": null}}},
    {"transform": [{"filter": "datum.t == 'star'"}], "mark": {"type": "text", "font": "Lato", "fontSize": 26, "fontWeight": "bold", "color": "#000", "align": "center", "baseline": "middle", "dy": 8}, "encoding": {"text": {"field": "txt"}}},
    {"transform": [{"filter": "datum.t == 'row'"}], "mark": {"type": "text", "font": "Lato", "fontSize": 17.5, "color": "#000", "align": "center", "baseline": "middle"}, "encoding": {"text": {"field": "txt"}}},
    {"transform": [{"filter": "datum.t == 'sec'"}], "mark": {"type": "text", "font": "Liberation Serif", "fontWeight": "bold", "fontSize": 22, "color": "#000", "align": "left", "baseline": "middle"}, "encoding": {"text": {"field": "txt"}}},
    {"transform": [{"filter": "datum.t == 'head'"}], "mark": {"type": "text", "font": "Lato", "fontWeight": "bold", "fontSize": 27, "color": "#000", "align": "center", "baseline": "middle"}, "encoding": {"text": {"field": "txt"}}}
   ]
  }
 }
]
}
